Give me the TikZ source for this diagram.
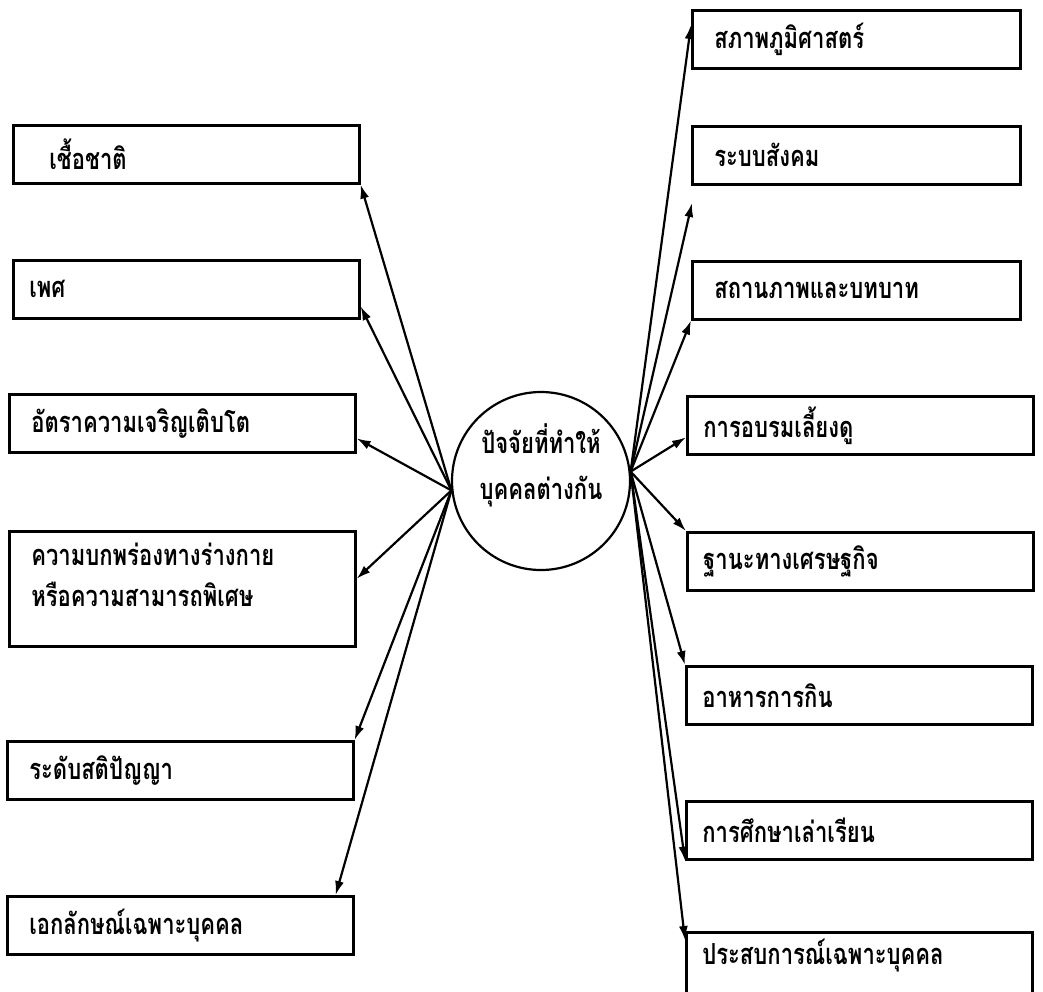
\documentclass[tikz,border=0pt]{standalone}
\usepackage{fontspec}
\usetikzlibrary{arrows.meta}
\newfontfamily\thaifont[Script=Thai, FakeStretch=0.76]{Loma}
\begin{document}
\begin{tikzpicture}[x=1pt,y=-1pt,
    thaitext/.style={font=\thaifont\bfseries\fontsize{29}{34}\selectfont},
    factor/.style={thaitext, draw, line width=2.6pt, anchor=north west,
      minimum height=58pt, inner xsep=0pt, text width=346pt, align=left},
    link/.style={-{Latex[length=14pt,width=9pt]}, line width=2.2pt}]
  \useasboundingbox (0,0) rectangle (1043,991);
  % centre
  \node[circle, draw, line width=2.2pt, minimum size=178pt,
    label={[thaitext, align=center, yshift=16pt]center:{ปัจจัยที่ทำให้\\[12pt]บุคคลต่างกัน}}] (hub) at (541,481) {};
  % left side
  \node[factor] (race) at (12,124) {\hspace*{36pt}เชื้อชาติ};
  \node[factor] (sex) at (12,259) {\hspace*{16pt}เพศ};
  \node[factor] (growth) at (8,393) {\hspace*{22pt}อัตราความเจริญเติบโต};
  \node[factor, minimum height=115pt, text depth=70pt] (disab) at (8,530) {\hspace*{22pt}ความบกพร่องทางร่างกาย\\[7pt]\hspace*{22pt}หรือความสามารถพิเศษ};
  \node[factor] (ability) at (6,740) {\hspace*{22pt}ระดับสติปัญญา};
  \node[factor] (unique) at (6,895) {\hspace*{22pt}เอกลักษณ์เฉพาะบุคคล};
  % right side
  \node[factor, text width=328pt] (geo) at (691,9) {\hspace*{22pt}สภาพภูมิศาสตร์};
  \node[factor, text width=328pt] (society) at (691,125) {\hspace*{22pt}ระบบสังคม};
  \node[factor, text width=328pt] (status) at (691,260) {\hspace*{22pt}สถานภาพและบทบาท};
  \node[factor] (rear) at (686,395) {\hspace*{16pt}การอบรมเลี้ยงดู};
  \node[factor] (econ) at (686,531) {\hspace*{16pt}ฐานะทางเศรษฐกิจ};
  \node[factor] (food) at (685,665) {\hspace*{16pt}อาหารการกิน};
  \node[factor] (edu) at (685,800) {\hspace*{16pt}การศึกษาเล่าเรียน};
  \node[factor, minimum height=64pt, text depth=26pt] (exper) at (685,931) {\hspace*{16pt}ประสบการณ์เฉพาะบุคคล};
  \coordinate (societyend) at (692,203);
  % arrows to the left
  \draw[link] (hub.186) -- (race.south east);
  \draw[link] (hub.186) -- ([yshift=-17pt]sex.east);
  \draw[link] (hub.186) -- ([yshift=-15pt]growth.east);
  \draw[link] (hub.186) -- ([yshift=10pt]disab.east);
  \draw[link] (hub.186) -- (ability.north east);
  \draw[link] (hub.186) -- ([xshift=-19pt]unique.north east);
  % arrows to the right
  \draw[link] (hub.6) -- ([yshift=-16pt]geo.north west);
  \draw[link] (hub.6) -- (societyend);
  \draw[link] (hub.6) -- (status.south west);
  \draw[link] (hub.6) -- ([yshift=-12pt]rear.west);
  \draw[link] (hub.6) -- (econ.north west);
  \draw[link] (hub.6) -- (food.north west);
  \draw[link] (hub.6) -- (edu.south west);
  \draw[link] (hub.6) -- ([yshift=-9pt]exper.north west);
\end{tikzpicture}
\end{document}
